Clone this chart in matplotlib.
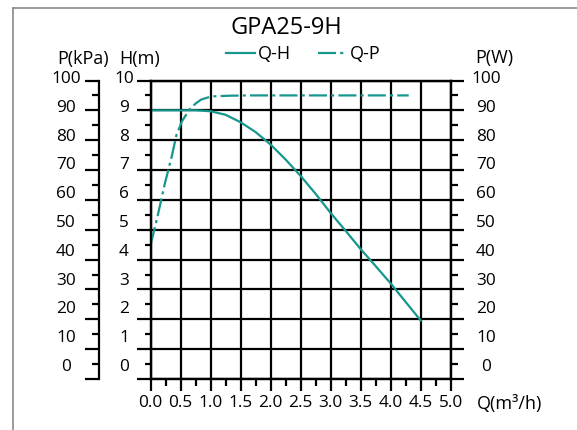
import numpy as np
import matplotlib
matplotlib.use("Agg")
import matplotlib.pyplot as plt
from matplotlib.lines import Line2D
from matplotlib.transforms import blended_transform_factory

plt.rcParams['font.family'] = ['Open Sans', 'DejaVu Sans']
plt.rcParams['lines.scale_dashes'] = False

# pump curve GPA25-9H
q_h = [0.0, 0.5, 0.75, 1.0, 1.25, 1.5, 1.75, 2.0, 2.25, 2.5, 2.75, 3.0, 3.25, 3.5, 3.75, 4.0, 4.25, 4.5]
head = [9.0, 9.0, 9.0, 8.97, 8.85, 8.6, 8.27, 7.85, 7.35, 6.8, 6.2, 5.56, 4.96, 4.35, 3.78, 3.2, 2.58, 1.96]

q_p = [0.0, 0.12, 0.23, 0.35, 0.43, 0.52, 0.65, 0.75, 0.84, 0.95, 1.06, 1.3, 1.6, 4.3]
power = [45.0, 55.0, 65.0, 74.5, 81.8, 86.3, 90.4, 92.3, 93.6, 94.3, 94.7, 94.9, 95.0, 95.0]

x_ticks = [0.0, 0.5, 1.0, 1.5, 2.0, 2.5, 3.0, 3.5, 4.0, 4.5, 5.0]
h_labels = [str(i) for i in range(11)]
p_labels = [str(i * 10) for i in range(11)]

teal = '#16978d'
W, H = 577, 430
TICK_FS = 12.4
LABEL_FS = 13


def fx(px):
    return px / W


def fy(py):
    return 1 - py / H


fig = plt.figure(figsize=(W / 100, H / 100), dpi=100)

x0, x1 = 150.7, 450.7
y_top, y_bot = 80.5, 379.0
rect = [fx(x0), fy(y_bot), (x1 - x0) / W, (y_bot - y_top) / H]

ax = fig.add_axes(rect)
ax.set_xlim(0, 5)
ax.set_ylim(0, 10)
ax.set_xticks(x_ticks)
ax.set_xticklabels(['%.1f' % v for v in x_ticks])
ax.set_xticks(np.arange(0.25, 5, 0.5), minor=True)
ax.set_yticks(range(11))
ax.set_yticks(np.arange(0.5, 10, 1.0), minor=True)
ax.grid(which='major', color='black', lw=1.6)
for s in ax.spines.values():
    s.set_linewidth(1.6)
ax.tick_params(axis='x', which='major', direction='out', length=8.6, width=1.6,
               labelsize=TICK_FS, pad=3)
ax.tick_params(axis='x', which='minor', direction='out', length=4.8, width=1.6)
ax.tick_params(axis='y', which='major', direction='out', length=10, width=1.6,
               labelleft=False)
ax.tick_params(axis='y', which='minor', direction='out', length=4.5, width=1.6)

ax.plot(q_h, head, color=teal, lw=1.6, label='Q-H', zorder=5)
ax.plot(np.array(q_p), np.array(power) / 10, color=teal, lw=1.6,
        dashes=(13, 3, 2.2, 3), label='Q-P', zorder=5)

# power axis on the right
ax_w = ax.twinx()
ax_w.set_ylim(0, 100)
ax_w.set_yticks(range(0, 101, 10))
ax_w.set_yticks(range(5, 100, 10), minor=True)
ax_w.tick_params(axis='y', which='major', direction='out', length=9.4, width=1.6,
                 labelright=False)
ax_w.tick_params(axis='y', which='minor', direction='out', length=5, width=1.6)
for s in ax_w.spines.values():
    s.set_linewidth(1.6)

# pressure axis on the far left
ax_k = fig.add_axes([fx(99.3), rect[1], 0.0001, rect[3]])
ax_k.set_ylim(0, 100)
ax_k.set_yticks(range(0, 101, 10))
ax_k.set_yticks(range(5, 100, 10), minor=True)
ax_k.tick_params(axis='y', which='major', direction='out', length=10, width=1.6,
                 labelleft=False)
ax_k.tick_params(axis='y', which='minor', direction='out', length=5, width=1.6)
ax_k.xaxis.set_visible(False)
for name, s in ax_k.spines.items():
    s.set_visible(name == 'left')
    s.set_linewidth(1.6)
ax_k.patch.set_visible(False)

# scale numbers
tr = blended_transform_factory(fig.transFigure, ax.transData)
for i in range(11):
    yy = 0.40 + 0.965 * i
    ax.text(fx(66), yy, p_labels[i], transform=tr, ha='center', va='center', fontsize=TICK_FS)
    ax.text(fx(124), yy, h_labels[i], transform=tr, ha='center', va='center', fontsize=TICK_FS)
    ax.text(fx(486), yy, p_labels[i], transform=tr, ha='center', va='center', fontsize=TICK_FS)

fig.text(fx(83), fy(59), 'P(kPa)', ha='center', va='center', fontsize=LABEL_FS)
fig.text(fx(140), fy(59), 'H(m)', ha='center', va='center', fontsize=LABEL_FS)
fig.text(fx(494), fy(58), 'P(W)', ha='center', va='center', fontsize=LABEL_FS)
fig.text(fx(477), fy(404), 'Q(m³/h)', ha='left', va='center', fontsize=LABEL_FS)
fig.text(fx(286), fy(28), 'GPA25-9H', ha='center', va='center', fontsize=17)

handles, labels = ax.get_legend_handles_labels()
fig.legend(handles, labels, loc='center', bbox_to_anchor=(fx(303), fy(54)), ncol=2,
           frameon=False, fontsize=LABEL_FS, handlelength=1.6, handletextpad=0.15,
           columnspacing=1.5, borderpad=0)

# outer frame
fig.add_artist(Line2D([fx(13), fx(13)], [0, fy(8)], transform=fig.transFigure,
                      color='#8a8a8a', lw=1.2))
fig.add_artist(Line2D([fx(13), 1], [fy(8), fy(8)], transform=fig.transFigure,
                      color='#8a8a8a', lw=1.2))

fig.savefig('out.png', dpi=100)
